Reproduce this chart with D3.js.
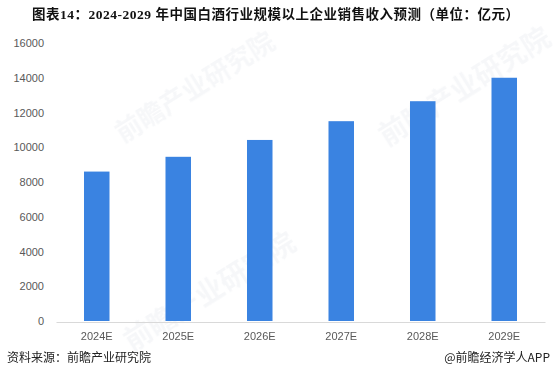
<!DOCTYPE html>
<html><head><meta charset="utf-8">
<script src="https://cdn.jsdelivr.net/npm/d3@7"></script>
<style>body{margin:0;background:#fff;}svg{display:block;}</style>
</head><body>
<svg id="c" width="556" height="370"></svg>
<script>
const categories = ["2024E","2025E","2026E","2027E","2028E","2029E"];
const values = [8600, 9450, 10420, 11500, 12650, 14000];
const yTicks = [0,2000,4000,6000,8000,10000,12000,14000,16000];
const title = "图表14：2024-2029 年中国白酒行业规模以上企业销售收入预测（单位：亿元）";
const source = "资料来源：前瞻产业研究院";
const credit = "@前瞻经济学人APP";

const svg = d3.select("#c");
const x = d3.scaleBand().domain(categories).range([56,545]).paddingInner(0.687).paddingOuter(0.3435);
const y = d3.scaleLinear().domain([0,16000]).range([321,43]);

// watermark
const wm = svg.append("g").attr("fill","#e6e9ee").attr("opacity",0.35)
  .attr("font-family","'Noto Sans CJK SC',sans-serif").attr("font-weight","bold");
[[200,95,26],[470,95,28],[215,300,28]].forEach(([cx,cy,fs])=>{
  wm.append("text").attr("transform",`translate(${cx},${cy}) rotate(-32)`)
    .attr("text-anchor","middle").attr("font-size",fs).text("前瞻产业研究院");
});

svg.append("text").attr("x",32).attr("y",19).attr("text-anchor","start")
  .attr("font-family","'Liberation Serif','Noto Sans CJK SC',serif").attr("font-weight","bold")
  .attr("font-size",13.5).attr("fill","#111")
  .attr("textLength",487).attr("lengthAdjust","spacing").text(title);

// y axis
const ya = svg.append("g").attr("transform","translate(44,0)")
  .call(d3.axisLeft(y).tickValues(yTicks).tickSize(0).tickPadding(0).tickFormat(d3.format("d")));
ya.select(".domain").remove();
ya.selectAll("text").attr("font-family","'Liberation Sans',Arial,sans-serif").attr("font-size",11).attr("fill","#595959");

// bars
svg.append("g").selectAll("rect").data(values).join("rect")
  .attr("x",(d,i)=>x(categories[i])).attr("width",x.bandwidth())
  .attr("y",d=>y(d)).attr("height",d=>y(0)-y(d)).attr("fill","#3a83e1");

// x axis
const xa = svg.append("g").attr("transform","translate(0,322)")
  .call(d3.axisBottom(x).tickSize(0).tickPadding(10));
xa.select(".domain").attr("stroke","#d9d9d9");
xa.selectAll("text").attr("font-family","'Liberation Sans',Arial,sans-serif").attr("font-size",11).attr("fill","#595959");

svg.append("text").attr("x",7).attr("y",362).attr("font-family","'Noto Sans CJK SC',sans-serif")
  .attr("font-size",12).attr("fill","#222").text(source);
svg.append("text").attr("x",550).attr("y",362).attr("text-anchor","end").attr("font-family","'Noto Sans CJK SC',sans-serif")
  .attr("font-size",12).attr("fill","#222").text(credit);
</script>
</body></html>
